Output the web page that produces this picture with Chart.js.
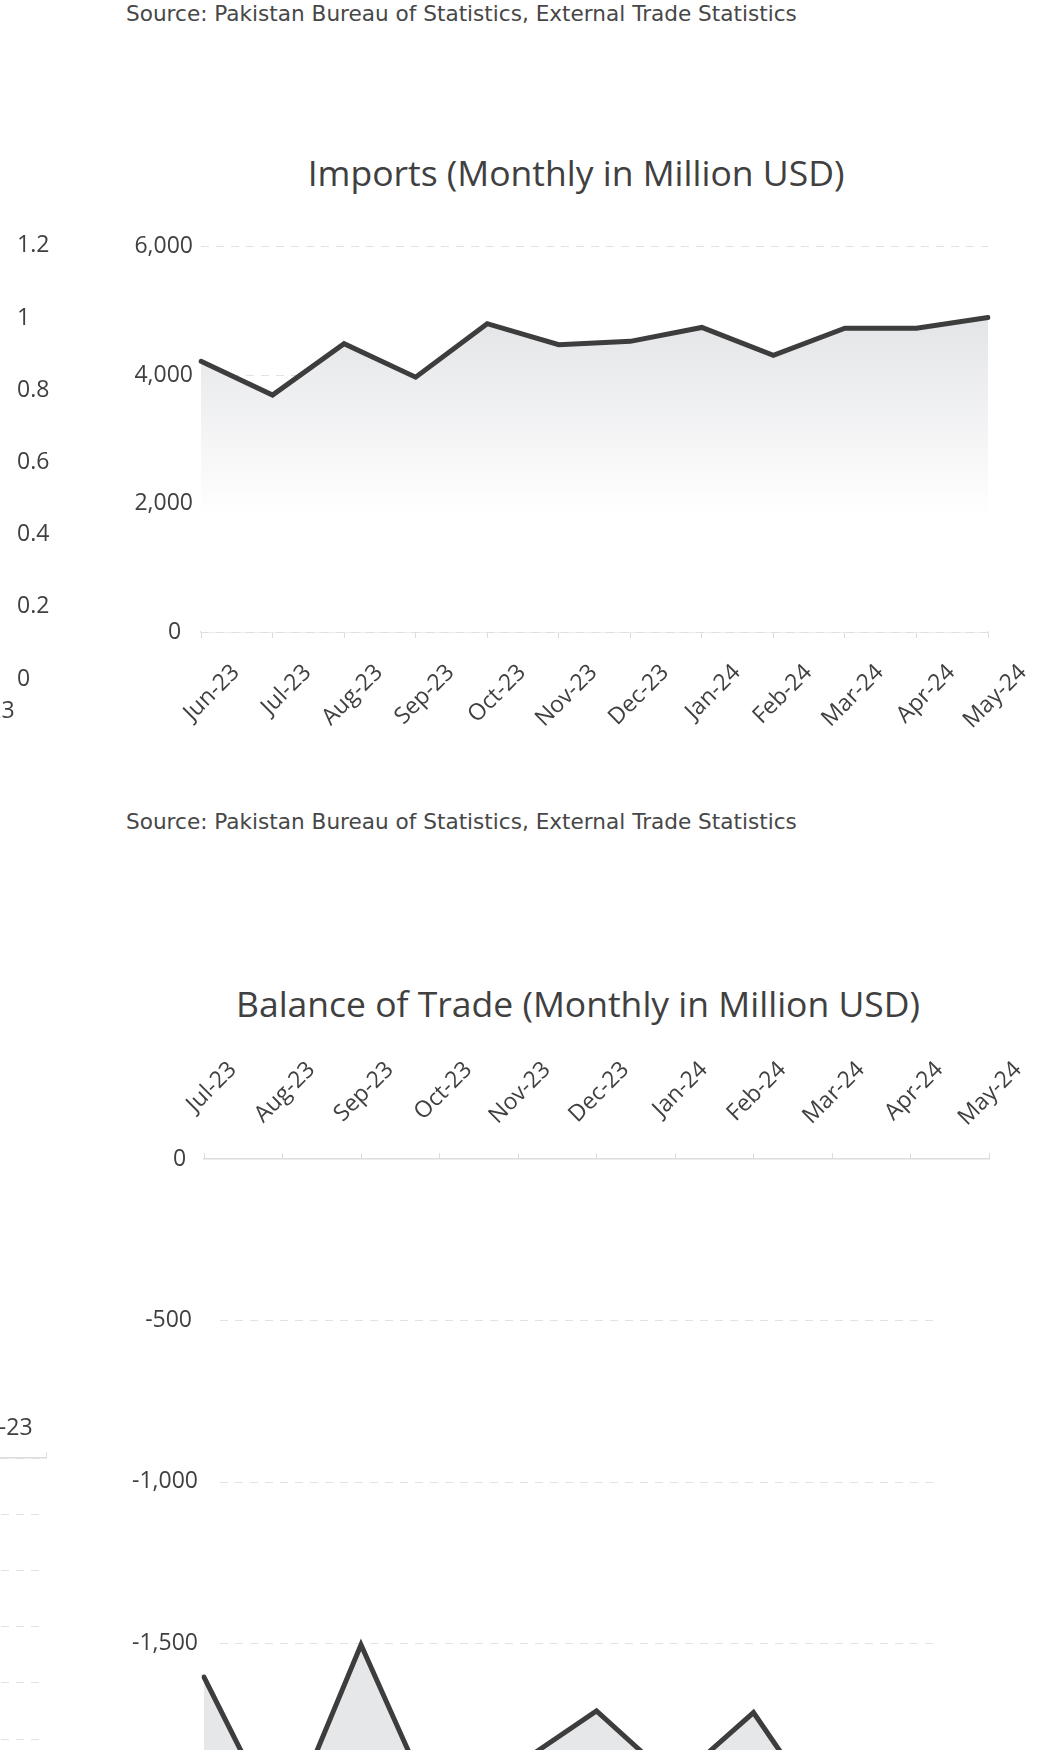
<!DOCTYPE html>
<html>
<head>
<meta charset="utf-8">
<title>Pakistan external trade</title>
<script src="https://cdn.jsdelivr.net/npm/chart.js@4.4.1/dist/chart.umd.min.js"></script>
<style>
  html, body { margin: 0; padding: 0; background: #fff; overflow: hidden; }
  #page { position: relative; width: 1061px; height: 1750px; overflow: hidden; }
  .source { position: absolute; left: 126px; font: 21.6px/1.2 "DejaVu Sans", Verdana, sans-serif; color: #474747; white-space: nowrap; }
  .heading { position: absolute; transform: translateX(-50%); font: 35.5px/1.2 "Open Sans", sans-serif; color: #404040; white-space: nowrap; margin: 0; font-weight: normal; }
  .box { position: absolute; }
</style>
</head>
<body>
<div id="page">
  <div class="source" style="top:1px">Source: Pakistan Bureau of Statistics, External Trade Statistics</div>
  <h3 class="heading" style="left:576px;top:151px">Imports (Monthly in Million USD)</h3>
  <div class="box" style="left:-675px;top:224px;width:745px;height:495px"><canvas id="chart-left-top"></canvas></div>
  <div class="box" style="left:111px;top:225px;width:930px;height:507px"><canvas id="chart-imports"></canvas></div>

  <div class="source" style="top:809px">Source: Pakistan Bureau of Statistics, External Trade Statistics</div>
  <h3 class="heading" style="left:578px;top:982px">Balance of Trade (Monthly in Million USD)</h3>
  <div class="box" style="left:-1154px;top:1408px;width:1220px;height:578px"><canvas id="chart-left-bottom"></canvas></div>
  <div class="box" style="left:115px;top:1029px;width:926px;height:957px"><canvas id="chart-balance"></canvas></div>
</div>

<script>
// ---- data ----
const importMonths = ['Jun-23', 'Jul-23', 'Aug-23', 'Sep-23', 'Oct-23', 'Nov-23', 'Dec-23', 'Jan-24', 'Feb-24', 'Mar-24', 'Apr-24', 'May-24'];
const importValues = [4217, 3690, 4492, 3969, 4802, 4476, 4527, 4744, 4310, 4733, 4733, 4899];
const importAxis = [0, 6000, 2000]; // min, max, step

const balanceMonths = ['Jul-23', 'Aug-23', 'Sep-23', 'Oct-23', 'Nov-23', 'Dec-23', 'Jan-24', 'Feb-24', 'Mar-24', 'Apr-24', 'May-24'];
const balanceValues = [-1605, -2090, -1505, -2050, -1875, -1710, -1930, -1715, -2070, -1950, -2100];
const balanceAxis = [-2500, 0, 500];

// charts of the left column, only their right edge is on screen
const leftTopMonths = ['Jul-22', 'Aug-22', 'Sep-22', 'Oct-22', 'Nov-22', 'Dec-22', 'Jan-23', 'Feb-23', 'Mar-23', 'Apr-23', 'May-23', 'Jun-23'];
const leftTopAxis = [0, 1.2, 0.2];
const leftBottomMonths = ['Jul-22', 'Aug-22', 'Sep-22', 'Oct-22', 'Nov-22', 'Dec-22', 'Jan-23', 'Feb-23', 'Mar-23', 'Apr-23', 'May-23', 'Jun-23'];
const leftBottomAxis = [-1800, 0, 200];

// ---- look ----
const ink = '#3d3d3d';
const textGrey = '#404040';
const gridGrey = '#e2e2e2';
const axisGrey = '#dcdcdc';
const areaGrey = '#e6e7e9';
const tickSize = 23;

Chart.defaults.font.family = '"Open Sans", sans-serif';
Chart.defaults.font.size = tickSize;
Chart.defaults.color = textGrey;

// fixed axis sizes so the plot areas land where they should
const fixWidth = w => s => { s.width = w; };
const fixHeight = h => s => { s.height = h; s.paddingLeft = 0; s.paddingRight = 0; };

// short labels sit a little further from the plot, as in the original
const valueLabel = v => {
  const s = v.toLocaleString('en-US');
  return s + ' '.repeat(Math.max(0, Math.round((5 - s.length) / 2)));
};

const noPlugins = { legend: { display: false }, tooltip: { enabled: false } };

function lineSet(values, fill, bg) {
  return {
    data: values,
    borderColor: ink,
    borderWidth: 5,
    borderCapStyle: 'round',
    borderJoinStyle: 'miter',
    pointRadius: 0,
    tension: 0,
    fill,
    backgroundColor: bg
  };
}

// soft grey fading out towards the 2,000 line
function importFill(ctx) {
  const { chart } = ctx;
  if (!chart.chartArea) return areaGrey;
  const y = chart.scales.y;
  const g = chart.ctx.createLinearGradient(0, y.getPixelForValue(5000), 0, y.getPixelForValue(1800));
  g.addColorStop(0, '#e3e4e7');
  g.addColorStop(1, '#ffffff');
  return g;
}

// dashed value lines drawn a bit shorter than the plot (balance chart)
const shortGrid = {
  id: 'shortGrid',
  beforeDatasetsDraw(chart, args, opts) {
    const { ctx, chartArea, scales } = chart;
    ctx.save();
    ctx.strokeStyle = gridGrey;
    ctx.lineWidth = 1;
    ctx.setLineDash([8, 7]);
    scales.y.ticks.forEach(t => {
      if (t.value === 0) return;
      const y = Math.round(scales.y.getPixelForValue(t.value)) + 0.5;
      ctx.beginPath();
      ctx.moveTo(chartArea.left + opts.inLeft, y);
      ctx.lineTo(chartArea.right - opts.inRight, y);
      ctx.stroke();
    });
    ctx.restore();
  }
};

// month labels above a top axis, slanted, with their right end pinned near the tick
// (chart.js left-aligns slanted labels on a top axis)
const slantLabels = {
  id: 'slantLabels',
  afterDraw(chart, args, opts) {
    const { ctx, chartArea, scales } = chart;
    const x = scales.x;
    ctx.save();
    ctx.font = `${tickSize}px "Open Sans", sans-serif`;
    ctx.fillStyle = textGrey;
    ctx.textAlign = 'right';
    ctx.textBaseline = 'middle';
    x.ticks.forEach((t, i) => {
      ctx.save();
      ctx.translate(x.getPixelForTick(i) + opts.dx, chartArea.top + opts.dy);
      ctx.rotate(-Math.PI / 4);
      ctx.fillText(x.getLabelForValue(t.value), 0, 0);
      ctx.restore();
    });
    ctx.restore();
  }
};

// Imports
new Chart(document.getElementById('chart-imports'), {
  type: 'line',
  data: {
    labels: importMonths,
    datasets: [lineSet(importValues, 'origin', importFill)]
  },
  options: {
    responsive: true,
    maintainAspectRatio: false,
    animation: false,
    layout: { padding: { left: 0, right: 53, top: 20, bottom: 0 } },
    plugins: noPlugins,
    scales: {
      x: {
        offset: false,
        grid: { drawOnChartArea: false, tickLength: 6, color: axisGrey },
        border: { color: axisGrey, width: 1.5 },
        ticks: { minRotation: 45, maxRotation: 45, autoSkip: false, labelOffset: 35, padding: 21 },
        afterFit: fixHeight(100)
      },
      y: {
        min: importAxis[0],
        max: importAxis[1],
        ticks: { stepSize: importAxis[2], padding: 8, callback: valueLabel },
        grid: { color: gridGrey, drawTicks: false },
        border: { display: false, dash: [8, 7] },
        afterFit: fixWidth(90)
      }
    }
  }
});

// Balance of trade
new Chart(document.getElementById('chart-balance'), {
  type: 'line',
  data: {
    labels: balanceMonths,
    datasets: [lineSet(balanceValues, 'start', areaGrey)]
  },
  plugins: [shortGrid, slantLabels],
  options: {
    responsive: true,
    maintainAspectRatio: false,
    animation: false,
    layout: { padding: { left: 0, right: 52, top: 0, bottom: 20 } },
    plugins: {
      ...noPlugins,
      shortGrid: { inLeft: 16, inRight: 52 },
      slantLabels: { dx: 29, dy: -93 }
    },
    scales: {
      x: {
        position: 'top',
        offset: false,
        grid: { drawOnChartArea: false, tickLength: 6, color: axisGrey },
        border: { color: axisGrey, width: 1.5 },
        ticks: { display: false, autoSkip: false },
        afterFit: fixHeight(130)
      },
      y: {
        min: balanceAxis[0],
        max: balanceAxis[1],
        ticks: { stepSize: balanceAxis[2], padding: 6, callback: valueLabel },
        grid: { display: false, drawTicks: false },
        border: { display: false },
        afterFit: fixWidth(89)
      }
    }
  }
});

// left column, top: empty chart with a right-hand axis
new Chart(document.getElementById('chart-left-top'), {
  type: 'bar',
  data: { labels: leftTopMonths, datasets: [] },
  options: {
    responsive: true,
    maintainAspectRatio: false,
    animation: false,
    layout: { padding: { left: 0, right: 0, top: 20, bottom: 0 } },
    plugins: noPlugins,
    scales: {
      x: {
        offset: true,
        grid: { display: false, drawTicks: false },
        border: { display: false },
        ticks: { minRotation: 0, maxRotation: 0, autoSkip: false, padding: 19 },
        afterFit: fixHeight(40)
      },
      y: {
        position: 'right',
        min: leftTopAxis[0],
        max: leftTopAxis[1],
        ticks: { stepSize: leftTopAxis[2], padding: 8, callback: v => String(+v.toFixed(1)) },
        grid: { display: false, drawTicks: false },
        border: { display: false },
        afterFit: fixWidth(61)
      }
    }
  }
});

// left column, bottom: axis on top, dashed grid
new Chart(document.getElementById('chart-left-bottom'), {
  type: 'bar',
  data: { labels: leftBottomMonths, datasets: [] },
  options: {
    responsive: true,
    maintainAspectRatio: false,
    animation: false,
    layout: { padding: { left: 0, right: 20, top: 0, bottom: 20 } },
    plugins: noPlugins,
    scales: {
      x: {
        position: 'top',
        offset: true,
        grid: { drawOnChartArea: false, offset: true, tickLength: 6, color: axisGrey },
        border: { color: axisGrey, width: 1.5 },
        ticks: { minRotation: 0, maxRotation: 0, autoSkip: false, padding: 10 },
        afterFit: fixHeight(50)
      },
      y: {
        min: leftBottomAxis[0],
        max: leftBottomAxis[1],
        ticks: { stepSize: leftBottomAxis[2], padding: 8 },
        grid: { color: gridGrey, drawTicks: false },
        border: { display: false, dash: [8, 7] },
        afterFit: fixWidth(60)
      }
    }
  }
});
</script>
</body>
</html>
